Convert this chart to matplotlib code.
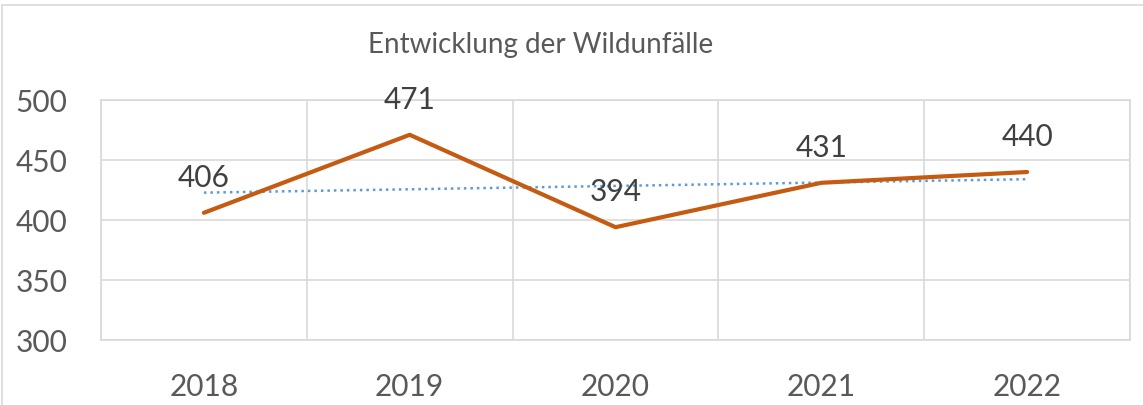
import matplotlib.pyplot as plt
import numpy as np
from matplotlib.patches import Rectangle

years = ['2018', '2019', '2020', '2021', '2022']
accidents = [406, 471, 394, 431, 440]

plt.rcParams['font.family'] = ['Lato', 'DejaVu Sans']

fig = plt.figure(figsize=(11.43, 4.05), dpi=100)
ax = fig.add_axes([101 / 1143, 1 - 340 / 405, 1029 / 1143, 240 / 405])

x = np.arange(len(years))

# linear trendline like Excel
coef = np.polyfit(x, accidents, 1)
ax.plot(x, np.polyval(coef, x), color='#5B9BD5', lw=1.8, ls=(0, (1, 1.6)), zorder=3)

ax.plot(x, accidents, color='#C55A11', lw=3, solid_capstyle='round', zorder=4)

for xi, v in zip(x, accidents):
    ax.annotate(str(v), (xi, v), xytext=(0, 25), textcoords='offset points',
                ha='center', va='center', fontsize=21.5, color='#404040', zorder=5)

ax.set_xlim(-0.5, len(years) - 0.5)
ax.set_ylim(300, 500)
ax.set_yticks([300, 350, 400, 450, 500])
ax.set_xticks(x)
ax.set_xticklabels(years)
ax.set_xticks(np.arange(-0.5, len(years)), minor=True)

ax.grid(axis='y', which='major', color='#D9D9D9', lw=1.2)
ax.grid(axis='x', which='minor', color='#D9D9D9', lw=1.2)
ax.tick_params(which='both', length=0)
ax.tick_params(axis='y', pad=24, labelsize=21.5, labelcolor='#595959')
ax.tick_params(axis='x', pad=24, labelsize=21.5, labelcolor='#595959')
for s in ax.spines.values():
    s.set_color('#D9D9D9')
    s.set_linewidth(1.2)

fig.text(541 / 1143, 1 - 45 / 405, 'Entwicklung der Wildunfälle', ha='center', va='center',
         fontsize=20, color='#595959')

fig.patches.append(Rectangle((2 / 1143, -0.1), 1.2, 1 - 5 / 405 + 0.1, transform=fig.transFigure,
                             fill=False, edgecolor='#D9D9D9', lw=1.2))

fig.savefig('out.png', dpi=100)
